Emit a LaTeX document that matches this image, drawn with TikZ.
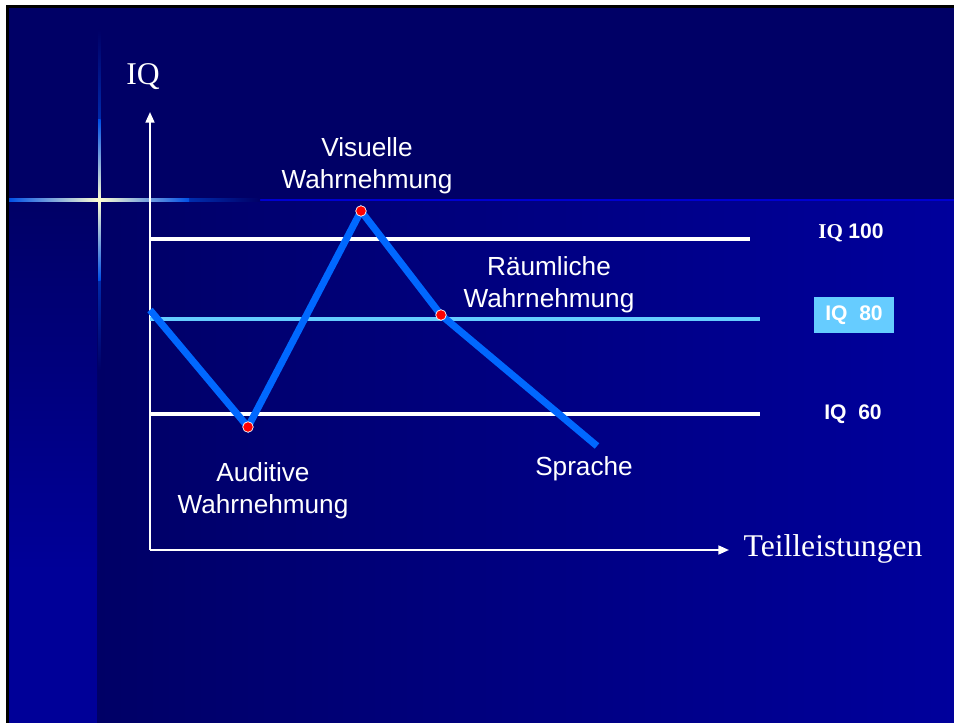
\documentclass[tikz,border=0pt]{standalone}
\usepackage{fontspec}
\setmainfont{Liberation Serif}
\setsansfont{Liberation Sans}
\usetikzlibrary{arrows.meta}
\definecolor{navy}{RGB}{0,0,102}
\definecolor{deepblue}{RGB}{0,0,156}
\definecolor{stripblue}{RGB}{0,0,152}
\definecolor{curveblue}{RGB}{0,104,255}
\definecolor{skyblue}{RGB}{102,204,255}
\definecolor{glowblue}{RGB}{0,80,230}
\definecolor{glowwhite}{RGB}{255,255,210}
\tikzset{
  axis/.style={white, line width=1.2pt, -{Triangle[length=6pt,width=5pt]}},
  level/.style={white, line width=2pt},
  curve/.style={curveblue, line width=4pt},
  dot/.style={circle, fill=red, draw=white, line width=0.4pt, inner sep=0pt, minimum size=6pt},
  lbl/.style={white, align=center, font=\sffamily\fontsize{14.9}{18}\selectfont},
  iqlbl/.style={white, font=\sffamily\bfseries\fontsize{12}{14}\selectfont}
}
\begin{document}
\begin{tikzpicture}[x=0.02cm,y=-0.02cm]
    \useasboundingbox (0,0) rectangle (954,723);
    % slide background
    \fill[white] (0,0) rectangle (954,723);
    \fill[black] (6,5) rectangle (954,723);
    \fill[navy] (9,8) rectangle (954,200);
    \shade[left color=navy, right color=deepblue] (97,200) rectangle (954,723);
    \shade[top color=navy, bottom color=stripblue] (9,200) rectangle (97,570);
    \fill[stripblue] (9,569) rectangle (97,723);
    \fill[blue!70!navy] (9,199) rectangle (954,201);
    % glow cross
    \shade[left color=navy, right color=navy, middle color=glowblue] (9,199) rectangle (260,201.5);
    \shade[left color=glowblue, right color=glowblue, middle color=glowwhite] (9,199) rectangle (189,201.5);
    \shade[top color=navy, bottom color=navy, middle color=glowblue] (98,30) rectangle (100.5,370);
    \shade[top color=glowblue, bottom color=glowblue, middle color=glowwhite] (98,120) rectangle (100.5,280);

    % axes
    \coordinate (o) at (150,550);
    \coordinate (ytop) at (150,112);
    \coordinate (xend) at (729,550);
    \draw[axis] (o) -- (ytop);
    \draw[axis] (o) -- (xend);
    \node[white, font=\fontsize{18}{20}\selectfont] (iq) at (143,77) {IQ};
    \node[white, font=\fontsize{18}{20}\selectfont] (teil) at (833,549) {Teilleistungen};

    % IQ levels
    \coordinate (l100a) at (150,239);
    \coordinate (l100b) at (750,239);
    \coordinate (l80a) at (150,319);
    \coordinate (l80b) at (760,319);
    \coordinate (l60a) at (150,414);
    \coordinate (l60b) at (760,414);
    \draw[level] (l100a) -- (l100b);
    \draw[level, skyblue] (l80a) -- (l80b);
    \draw[level] (l60a) -- (l60b);
    \node[white, font=\bfseries\fontsize{12}{14}\selectfont] (iq100) at (851,233) {IQ \sffamily 100};
    \node[iqlbl, fill=skyblue, minimum width=1.6cm, minimum height=0.72cm] (iq80) at (854,315) {IQ\ \ 80};
    \node[iqlbl] (iq60) at (853,414) {IQ\ \ 60};

    % profile
    \coordinate (p0) at (150,310);
    \coordinate (p1) at (248,427);
    \coordinate (p2) at (361,211);
    \coordinate (p3) at (441,315);
    \coordinate (p4) at (597,446);
    \draw[curve] (p0) -- (p1) -- (p2) -- (p3) -- (p4);
    \node[dot] (d1) at (p1) {};
    \node[dot] (d2) at (p2) {};
    \node[dot] (d3) at (p3) {};

    \node[lbl] (vis) at (367,166) {Visuelle\\Wahrnehmung};
    \node[lbl] (raum) at (549,285) {Räumliche\\Wahrnehmung};
    \node[lbl] (aud) at (263,491) {Auditive\\Wahrnehmung};
    \node[lbl] (spr) at (584,469) {Sprache};
\end{tikzpicture}
\end{document}
